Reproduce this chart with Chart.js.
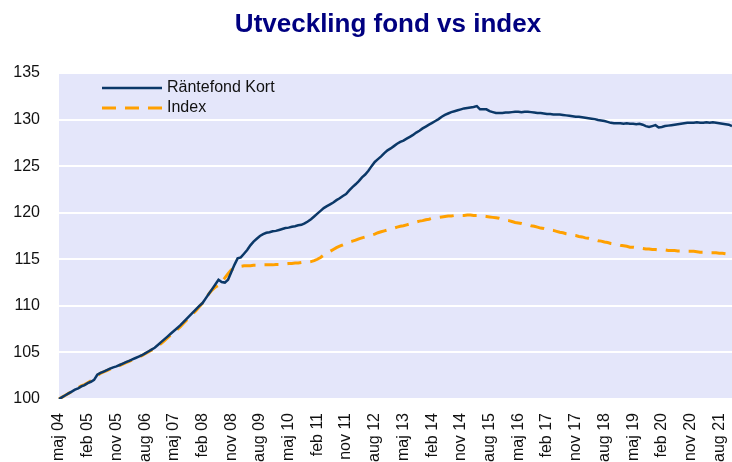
<!DOCTYPE html>
<html>
<head>
<meta charset="utf-8">
<script src="https://cdn.jsdelivr.net/npm/chart.js@4"></script>
<style>
  html, body { margin: 0; padding: 0; background: #fff; }
</style>
</head>
<body>
<canvas id="fundChart" width="732" height="462"></canvas>
<script>
const TITLE = "Utveckling fond vs index";
const MONTHS = ["jan", "feb", "mar", "apr", "maj", "jun", "jul", "aug", "sep", "okt", "nov", "dec"];

// one category per month, maj 04 .. dec 21
const labels = [];
for (let y = 2004; y <= 2021; y++) {
  for (let m = 0; m < 12; m++) {
    if (y === 2004 && m < 4) continue;
    labels.push(MONTHS[m] + " " + String(y).slice(2));
  }
}

const fundValues = [
  100.0, 100.2, 100.4, 100.6, 100.8, 101.0, 101.15, 101.35, 101.5, 101.7, 101.85, 102.05,
  102.6, 102.8, 102.95, 103.1, 103.25, 103.4, 103.5, 103.65, 103.8, 103.95, 104.1, 104.25,
  104.4, 104.55, 104.7, 104.9, 105.1, 105.3, 105.5, 105.8, 106.1, 106.4, 106.7, 107.0,
  107.3, 107.6, 107.9, 108.25, 108.6, 108.95, 109.3, 109.65, 110.0, 110.3, 110.8, 111.3,
  111.8, 112.3, 112.8, 112.55, 112.5, 112.8, 113.6, 114.4, 115.1, 115.2, 115.6, 116.0,
  116.5, 116.9, 117.2, 117.5, 117.7, 117.85, 117.9, 118.0, 118.05, 118.15, 118.25, 118.35,
  118.4, 118.5, 118.55, 118.65, 118.7, 118.85, 119.05, 119.3, 119.6, 119.9, 120.2, 120.5,
  120.7, 120.9, 121.1, 121.35, 121.55, 121.8, 122.0, 122.4, 122.75, 123.05, 123.4, 123.8,
  124.1, 124.5, 125.0, 125.45, 125.75, 126.05, 126.4, 126.7, 126.9, 127.15, 127.4, 127.6,
  127.75, 127.95, 128.15, 128.35, 128.6, 128.8, 129.05, 129.25, 129.45, 129.65, 129.85, 130.05,
  130.3, 130.5, 130.65, 130.8, 130.9, 131.0, 131.1, 131.2, 131.25, 131.3, 131.35, 131.45,
  131.1, 131.1, 131.1, 130.9, 130.8, 130.7, 130.7, 130.7, 130.75, 130.75, 130.8, 130.85,
  130.85, 130.8, 130.85, 130.85, 130.8, 130.75, 130.7, 130.7, 130.65, 130.6, 130.6, 130.55,
  130.55, 130.55, 130.5, 130.45, 130.4, 130.35, 130.3, 130.3, 130.25, 130.2, 130.15, 130.1,
  130.05, 129.95, 129.9, 129.85, 129.75, 129.65, 129.6, 129.6, 129.6, 129.55, 129.6, 129.55,
  129.55, 129.5, 129.55, 129.45, 129.3, 129.2, 129.3, 129.4, 129.15, 129.2, 129.3, 129.35,
  129.4, 129.45, 129.5, 129.55, 129.6, 129.65, 129.65, 129.65, 129.7, 129.65, 129.65, 129.7,
  129.65, 129.7, 129.65, 129.6, 129.55, 129.5, 129.45, 129.3
];

const indexValues = [
  100.0, 100.2, 100.4, 100.6, 100.8, 101.0, 101.2, 101.4, 101.55, 101.75, 101.95, 102.2,
  102.5, 102.75, 102.9, 103.05, 103.2, 103.35, 103.5, 103.6, 103.75, 103.9, 104.05, 104.2,
  104.35, 104.5, 104.65, 104.85, 105.05, 105.25, 105.45, 105.7, 105.95, 106.25, 106.55, 106.85,
  107.15, 107.45, 107.75, 108.1, 108.45, 108.8, 109.15, 109.5, 109.9, 110.3, 110.8, 111.3,
  111.7, 112.0, 112.2, 112.6, 113.0, 113.45, 113.85, 114.05, 114.2, 114.25, 114.3, 114.3,
  114.3, 114.35, 114.35, 114.35, 114.4, 114.4, 114.4, 114.4, 114.45, 114.45, 114.5, 114.5,
  114.55, 114.55, 114.6, 114.6, 114.65, 114.65, 114.7, 114.75, 114.85, 115.0, 115.2, 115.45,
  115.65, 115.85, 116.05, 116.25, 116.4, 116.55, 116.7, 116.85, 116.95, 117.05, 117.2, 117.3,
  117.4, 117.5, 117.6, 117.7, 117.85, 117.95, 118.05, 118.15, 118.25, 118.35, 118.45, 118.55,
  118.6, 118.7, 118.8, 118.9, 119.0, 119.1, 119.15, 119.25, 119.3, 119.4, 119.45, 119.5,
  119.55, 119.6, 119.65, 119.65, 119.7, 119.7, 119.7, 119.7, 119.75, 119.75, 119.7, 119.7,
  119.7, 119.65, 119.6, 119.55, 119.5, 119.45, 119.4, 119.3, 119.2, 119.15, 119.05, 118.95,
  118.9, 118.85, 118.75, 118.7, 118.6, 118.55, 118.45, 118.35, 118.3, 118.2, 118.15, 118.1,
  118.0, 117.9, 117.85, 117.75, 117.7, 117.6, 117.55, 117.45, 117.4, 117.3, 117.25, 117.15,
  117.1, 117.0, 116.95, 116.85, 116.8, 116.7, 116.65, 116.6, 116.5, 116.45, 116.4, 116.3,
  116.3, 116.25, 116.2, 116.15, 116.1, 116.1, 116.05, 116.05, 116.0, 116.0, 116.0, 115.95,
  115.95, 115.95, 115.9, 115.9, 115.9, 115.85, 115.85, 115.85, 115.8, 115.75, 115.75, 115.7,
  115.7, 115.7, 115.7, 115.65, 115.65, 115.6, 115.6, 115.55
];

const NAVY = "#0b3868";
const ORANGE = "#ffa000";
const FONT = '"Liberation Sans", Arial, sans-serif';

// lavender plot background
const plotBackground = {
  id: "plotBackground",
  beforeDraw(chart) {
    const { ctx, chartArea: a } = chart;
    ctx.save();
    ctx.fillStyle = "#e4e6fa";
    ctx.fillRect(a.left, a.top, a.right - a.left, a.bottom - a.top);
    ctx.restore();
  }
};

// title and the small legend inside the plot
const chartText = {
  id: "chartText",
  afterDraw(chart) {
    const { ctx, chartArea: a } = chart;
    ctx.save();
    ctx.font = "bold 26px " + FONT;
    ctx.fillStyle = "#000080";
    ctx.textAlign = "center";
    ctx.textBaseline = "middle";
    ctx.fillText(TITLE, 388, 25);

    ctx.font = "16px " + FONT;
    ctx.textAlign = "left";
    chart.data.datasets.forEach((ds, k) => {
      const y = a.top + 15 + k * 20;
      ctx.strokeStyle = ds.borderColor;
      ctx.lineWidth = ds.borderWidth;
      ctx.setLineDash(ds.borderDash || []);
      ctx.beginPath();
      ctx.moveTo(a.left + 43, y);
      ctx.lineTo(a.left + 103, y);
      ctx.stroke();
      ctx.fillStyle = "#111";
      ctx.fillText(ds.label, a.left + 108, y);
    });
    ctx.restore();
  }
};

const config = {
  type: "line",
  data: {
    labels: labels,
    datasets: [
      {
        label: "Räntefond Kort",
        data: fundValues,
        borderColor: NAVY,
        borderWidth: 2.5,
        pointRadius: 0,
        tension: 0
      },
      {
        label: "Index",
        data: indexValues,
        borderColor: ORANGE,
        borderWidth: 3,
        borderDash: [14, 9],
        pointRadius: 0,
        tension: 0
      }
    ]
  },
  options: {
    responsive: false,
    animation: false,
    layout: { padding: { top: 73, left: 13, right: 0, bottom: 0 } },
    plugins: {
      legend: { display: false },
      title: { display: false },
      tooltip: { enabled: false }
    },
    scales: {
      x: {
        offset: false,
        grid: { display: false },
        border: { display: false },
        ticks: {
          autoSkip: false,
          maxRotation: 90,
          minRotation: 90,
          padding: 6,
          color: "#111",
          font: { family: FONT, size: 16 },
          callback: (v, i) => (i % 9 === 0 ? labels[i] : null)
        },
        afterFit(scale) {
          scale.height = 63;
          scale.paddingLeft = 0;
          scale.paddingRight = 0;
        }
      },
      y: {
        min: 100,
        max: 135,
        grid: { color: "#ffffff", lineWidth: 2, drawTicks: false },
        border: { display: false },
        ticks: {
          stepSize: 5,
          padding: 19,
          color: "#111",
          font: { family: FONT, size: 16 }
        },
        afterFit(scale) {
          scale.width = 46;
          scale.paddingTop = 0;
          scale.paddingBottom = 0;
        }
      }
    }
  },
  plugins: [plotBackground, chartText]
};

new Chart(document.getElementById("fundChart"), config);
</script>
</body>
</html>
